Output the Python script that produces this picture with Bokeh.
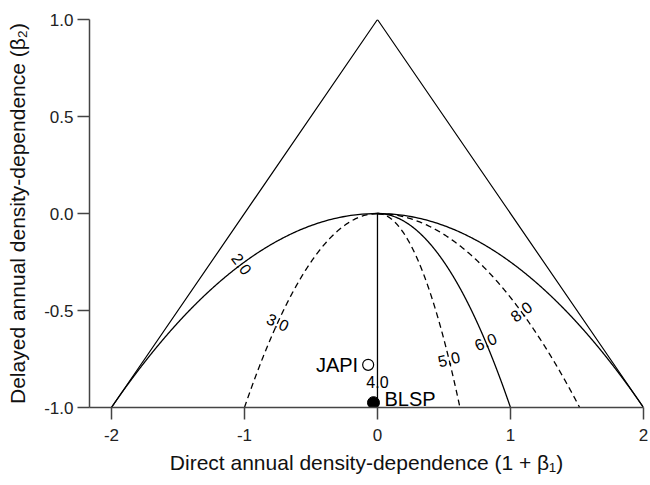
import numpy as np
from bokeh.plotting import figure
from bokeh.models import Range1d, ColumnDataSource, FixedTicker
from bokeh.embed import file_html
from bokeh.resources import INLINE
from bokeh.core.properties import value

# ---- data ----
tri_x = [-2.0, 0.0, 2.0, -2.0]
tri_y = [-1.0, 1.0, -1.0, -1.0]

period_labels = ["2.0", "3.0", "4.0", "5.0", "6.0", "8.0"]
# x where each period contour meets beta2 = -1
contour_end_x = [-2.0, -1.0, 0.0, 0.62, 1.0, 1.52]
contour_dashed = [False, True, False, True, False, True]
label_beta2 = [-0.26, -0.56, -0.87, -0.75, -0.66, -0.505]
boundary_right_end_x = 2.0

species = ["JAPI", "BLSP"]
species_x = [-0.07, -0.03]
species_y = [-0.78, -0.975]

x_ticks = [-2, -1, 0, 1, 2]
x_tick_labels = ["-2", "-1", "0", "1", "2"]
y_ticks = [-1.0, -0.5, 0.0, 0.5, 1.0]
y_tick_labels = ["-1.0", "-0.5", "0.0", "0.5", "1.0"]

FONT = "Liberation Sans"
X0, X1 = -2.165, 2.0
W, H = 648, 484
BL, BR, BT, BB = 89, 5, 19, 77

p = figure(width=W, height=H, x_range=Range1d(X0, X1), y_range=Range1d(-1, 1),
           output_backend="svg", toolbar_location=None,
           min_border_left=BL, min_border_right=BR, min_border_top=BT, min_border_bottom=BB)
p.grid.visible = False
p.outline_line_color = None
p.background_fill_color = "white"

# triangle
p.line(tri_x, tri_y, line_color="black", line_width=1.2)

# period contours: x = end * sqrt(-beta2)
t = np.linspace(0.0, 1.0, 300)
curves = list(zip(contour_end_x, contour_dashed)) + [(boundary_right_end_x, False)]
for ex, dash in curves:
    xs = ex * np.sqrt(t)
    ys = -t
    p.line(xs, ys, line_color="black", line_width=1.3,
           line_dash="6 4" if dash else "solid")

# labels perpendicular to contours
fw = W - BL - BR
fh = H - BT - BB
sx = fw / (X1 - X0)
sy = fh / 2.0
lx, ly, la = [], [], []
for ex, yb in zip(contour_end_x, label_beta2):
    s = np.sqrt(-yb)
    lx.append(ex * s)
    ly.append(yb)
    dxdy = -ex / (2 * s)
    theta = np.arctan2(sy, sx * dxdy)
    la.append(theta - np.pi / 2)
src = ColumnDataSource(dict(x=lx, y=ly, a=la, t=period_labels))
p.text(x="x", y="y", text="t", angle="a", source=src, text_align="center",
       text_baseline="middle", text_font=value(FONT), text_font_size="16px",
       text_color="black")

# species points
p.scatter([species_x[0]], [species_y[0]], size=11, marker="circle",
          fill_color="white", line_color="black", line_width=1.2)
p.scatter([species_x[1]], [species_y[1]], size=12, marker="circle",
          fill_color="black", line_color="black")
p.text([species_x[0]], [species_y[0]], text=[species[0]], x_offset=-10,
       text_align="right", text_baseline="middle", text_font=value(FONT),
       text_font_size="20px", text_color="black")
p.text([species_x[1]], [species_y[1]], text=[species[1]], x_offset=11, y_offset=-4,
       text_align="left", text_baseline="middle", text_font=value(FONT),
       text_font_size="20px", text_color="black")

# axes
for ax in (p.xaxis[0], p.yaxis[0]):
    ax.axis_line_color = "#444444"
    ax.axis_line_width = 1.5
    ax.major_tick_line_color = "#444444"
    ax.major_tick_line_width = 1.5
    ax.major_tick_out = 12
    ax.major_tick_in = 0
    ax.minor_tick_line_color = None
    ax.major_label_text_font = FONT
    ax.major_label_text_font_size = "17px"
    ax.major_label_text_color = "#222222"
    ax.axis_label_text_font = FONT
    ax.axis_label_text_font_size = "21px"
    ax.axis_label_text_font_style = "normal"
    ax.axis_label_text_color = "#111111"

p.xaxis.ticker = FixedTicker(ticks=x_ticks)
p.xaxis.major_label_overrides = dict(zip(x_ticks, x_tick_labels))
p.yaxis.ticker = FixedTicker(ticks=y_ticks)
p.yaxis.major_label_overrides = dict(zip(y_ticks, y_tick_labels))
p.xaxis.major_label_standoff = 9
p.yaxis.major_label_standoff = 4
p.xaxis.axis_label = "Direct annual density-dependence (1 + β₁)"
p.yaxis.axis_label = "Delayed annual density-dependence (β₂)"
p.xaxis.axis_label_standoff = 7
p.yaxis.axis_label_standoff = 12

open("out.html", "w").write(file_html(p, INLINE))
